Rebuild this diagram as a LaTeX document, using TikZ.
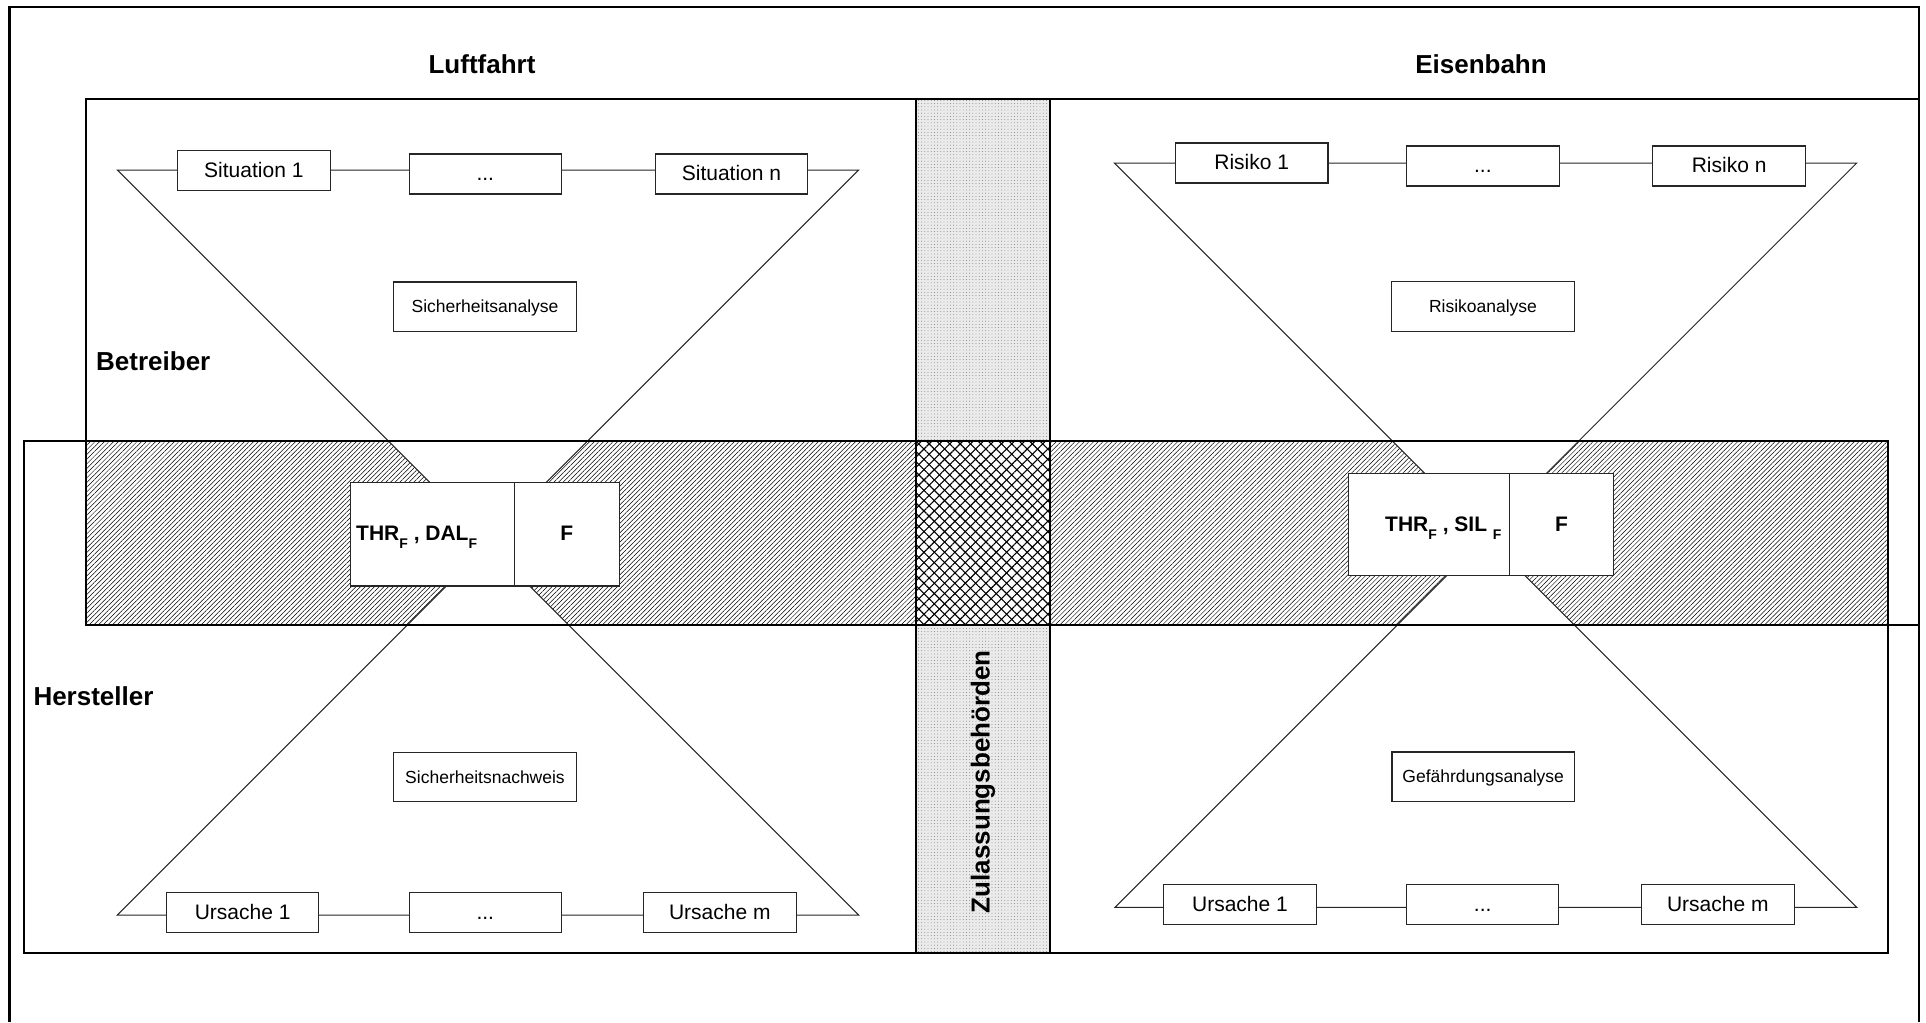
\documentclass[tikz,border=0pt]{standalone}
\usepackage{fontspec}
\setmainfont{Liberation Sans}
\usetikzlibrary{patterns.meta}

% lowered index letter for the THR / DAL / SIL labels
\newcommand{\lowsub}[1]{\raisebox{-8pt}{\fontsize{14}{14}\selectfont #1}}

\tikzset{
  heavy/.style={line width=2.2pt, draw=black},
  funnel/.style={draw=black!85, line width=1pt, fill=white, line join=miter},
  chainbox/.style={draw=black!85, line width=1.1pt, fill=white, inner sep=0pt,
    minimum width=152.5pt, minimum height=40pt, text height=13pt, text depth=0pt,
    font=\fontsize{21}{21}\selectfont},
  midbox/.style={draw=black!85, line width=1.1pt, fill=white, inner sep=0pt,
    minimum width=182.5pt, minimum height=49.5pt, text height=12pt, text depth=0pt,
    font=\fontsize{17.5}{17.5}\selectfont},
  header/.style={font=\fontsize{26}{26}\selectfont\bfseries, inner sep=0pt},
  thrbox/.style={draw=black!85, line width=1.1pt, fill=white, inner sep=0pt},
  thrtext/.style={font=\fontsize{21}{21}\selectfont\bfseries, inner sep=0pt},
  hatch/.style={pattern={Lines[angle=45,distance=3.3pt,line width=0.5pt]}, pattern color=black},
  cross/.style={pattern={Lines[angle=#1,distance=7.3pt,line width=1.1pt]}, pattern color=black},
}

\begin{document}
\begin{tikzpicture}[x=1pt,y=-1pt]
\useasboundingbox (0,0) rectangle (1926,1022);

% region corners
\coordinate (betNW) at (85.7,99.3);   \coordinate (betSE) at (1919,625);
\coordinate (herNW) at (24,440.7);    \coordinate (herSE) at (1887.7,953.3);
\coordinate (colNW) at (915.7,99.3);  \coordinate (colSE) at (1050.3,953.3);

% authority column: light dotted fill
\fill[black!8] (colNW) rectangle (colSE);
\fill[pattern={Dots[radius=0.45pt,distance=3.2pt]}, pattern color=black!55] (colNW) rectangle (colSE);

% overlap band of operator and manufacturer
\fill[hatch] (85.7,440.7) rectangle (915.7,625);
\fill[hatch] (1050.3,440.7) rectangle (1887.7,625);
\fill[white] (915.7,440.7) rectangle (1050.3,625);
\fill[cross=45] (915.7,440.7) rectangle (1050.3,625);
\fill[cross=-45] (915.7,440.7) rectangle (1050.3,625);

% funnels (aviation left, railway right)
\coordinate (ulA) at (117.4,170);  \coordinate (ulB) at (858.6,170);  \coordinate (ulC) at (488,540.6);
\coordinate (llA) at (117.3,915);  \coordinate (llB) at (858.7,915);  \coordinate (llC) at (488,544.3);
\coordinate (urA) at (1114.3,163); \coordinate (urB) at (1856.7,163); \coordinate (urC) at (1485.5,534.2);
\coordinate (lrA) at (1115,907.3); \coordinate (lrB) at (1856.7,907.3); \coordinate (lrC) at (1485.85,536.45);
\draw[funnel] (ulA) -- (ulB) -- (ulC) -- cycle;
\draw[funnel] (llA) -- (llB) -- (llC) -- cycle;
\draw[funnel] (urA) -- (urB) -- (urC) -- cycle;
\draw[funnel] (lrA) -- (lrB) -- (lrC) -- cycle;

% region outlines and frame
\draw[heavy] (betNW) rectangle (betSE);
\draw[heavy] (herNW) rectangle (herSE);
\draw[heavy] (colNW) rectangle (colSE);
\draw[heavy] (9.5,1022) -- (9.5,7) -- (1919,7) -- (1919,1022);

% headings
\node[header, anchor=base] (luft) at (482,74) {Luftfahrt};
\node[header, anchor=base] (eisen) at (1481,74) {Eisenbahn};
\node[header, anchor=base west] (betr) at (96,370) {Betreiber};
\node[header, anchor=base west] (herst) at (33.3,705) {Hersteller};
\node[header, rotate=90] (zul) at (983,781.7) {Zulassungsbehörden};

% aviation: situations
\node[chainbox] (sit1) at (253.85,170.7) {Situation 1};
\node[chainbox] (sitdots) at (485.3,174) {...};
\node[chainbox] (sitn) at (731.45,174) {Situation n};
% aviation: causes
\node[chainbox] (lurs1) at (242.65,912.5) {Ursache 1};
\node[chainbox] (lursdots) at (485.3,912.5) {...};
\node[chainbox] (lursm) at (719.8,912.5) {Ursache m};
% railway: risks
\node[chainbox] (ris1) at (1251.75,163) {Risiko 1};
\node[chainbox] (risdots) at (1482.85,166) {...};
\node[chainbox] (risn) at (1729.15,166) {Risiko n};
% railway: causes
\node[chainbox] (rurs1) at (1240,904.7) {Ursache 1};
\node[chainbox] (rursdots) at (1482.65,904.7) {...};
\node[chainbox] (rursm) at (1717.8,904.7) {Ursache m};

% analysis boxes
\node[midbox] (sana) at (485.05,306.7) {Sicherheitsanalyse};
\node[midbox] (rana) at (1483,306.5) {Risikoanalyse};
\node[midbox] (snach) at (485,777) {Sicherheitsnachweis};
\node[midbox] (gana) at (1483.2,776.7) {Gefährdungsanalyse};

% target boxes in the overlap band
\node[thrbox, minimum width=163.6pt, minimum height=103.3pt] (thrL) at (432.5,534.35) {};
\node[thrbox, minimum width=105pt, minimum height=103.3pt] (thrLF) at (566.8,534.35) {};
\node[thrbox, minimum width=160.6pt, minimum height=102.4pt] (thrR) at (1429,524.5) {};
\node[thrbox, minimum width=104.4pt, minimum height=102.4pt] (thrRF) at (1561.5,524.5) {};
\node[thrtext, anchor=base west] (thrLtxt) at (356,540.7) {THR\lowsub{F} , DAL\lowsub{F}};
\node[thrtext, anchor=base] (thrLFtxt) at (566.8,540.7) {F};
\node[thrtext, anchor=base west] (thrRtxt) at (1385,531.7) {THR\lowsub{F} , SIL \lowsub{F}};
\node[thrtext, anchor=base] (thrRFtxt) at (1561.5,531.7) {F};
\end{tikzpicture}
\end{document}
